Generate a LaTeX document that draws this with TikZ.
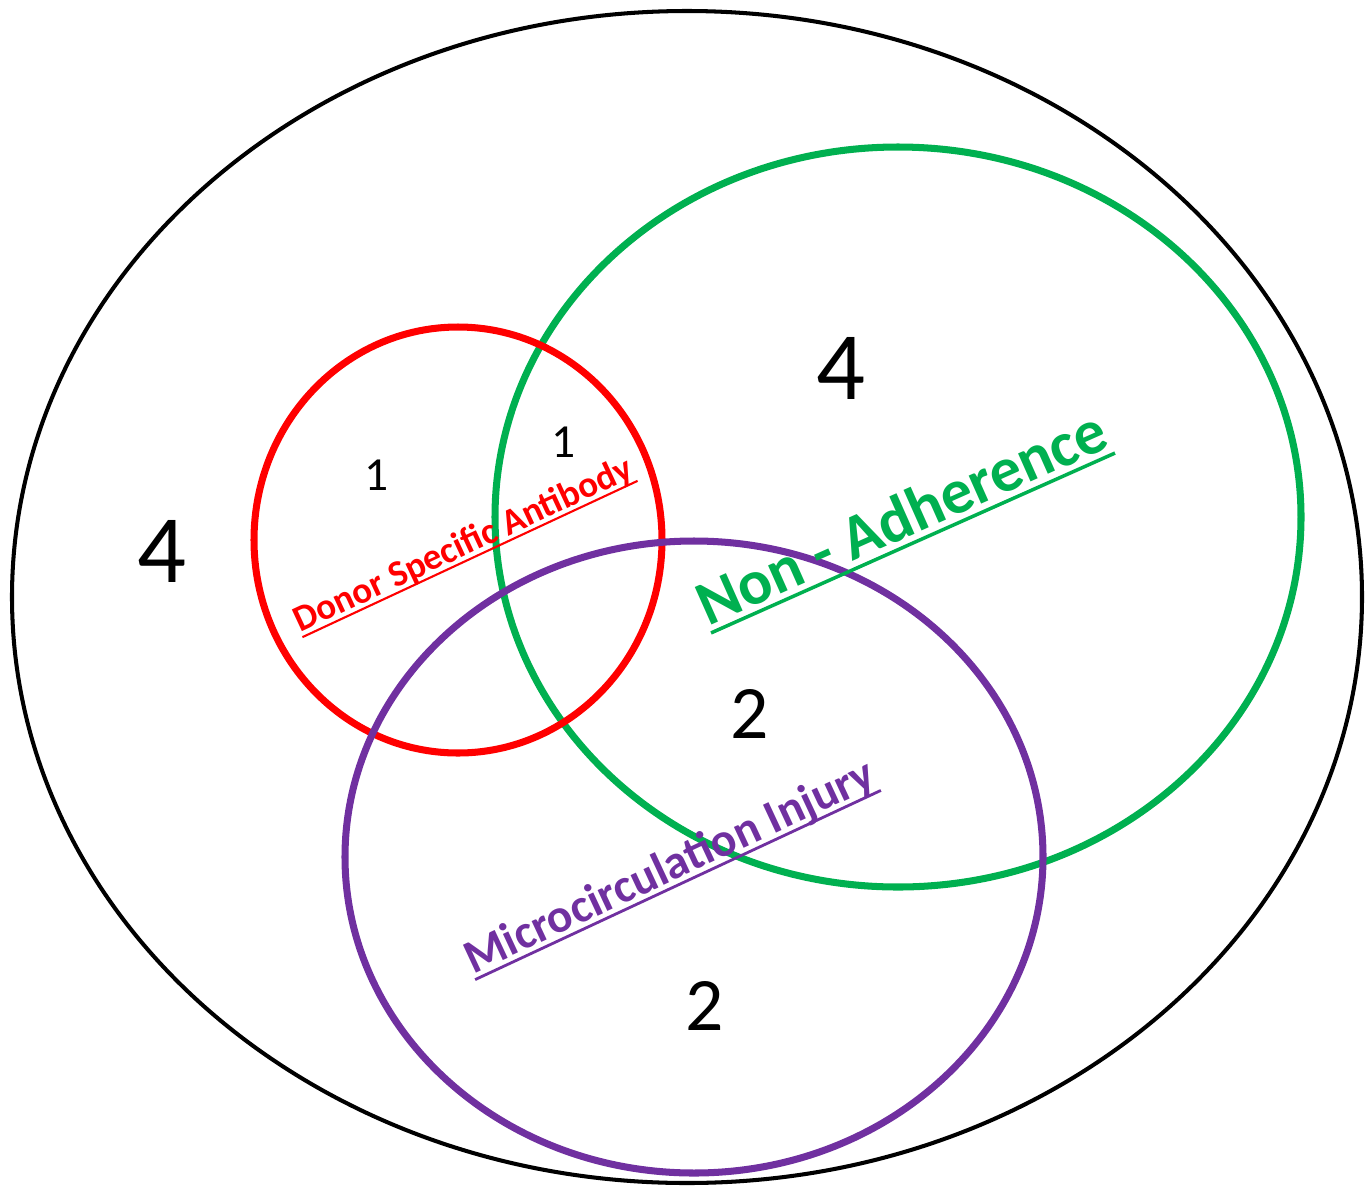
\documentclass[tikz,border=0pt]{standalone}
\usepackage{fontspec}
\setmainfont{Carlito}
\definecolor{dsared}{RGB}{255,0,0}
\definecolor{nagreen}{RGB}{0,176,80}
\definecolor{mipurple}{RGB}{112,48,160}

\tikzset{
  ring/.style={line width=4pt},
  count/.style={font=\fontsize{#1}{#1}\selectfont, inner sep=0pt, text depth=0pt},
  tag/.style={font=\bfseries\fontsize{#1}{#1}\selectfont, inner xsep=0pt,
    text depth=0pt, anchor=south},
}

\begin{document}
\begin{tikzpicture}[x=0.02cm, y=-0.02cm]
    \useasboundingbox (0,0) rectangle (1369,1187);

    % sets
    \draw[line width=2.3pt] (687,597) ellipse [x radius=675, y radius=586];
    \draw[ring, nagreen] (898,517) ellipse [x radius=403, y radius=370];
    \draw[ring, dsared] (458,540) ellipse [x radius=204, y radius=213];
    \draw[ring, mipurple] (694,857) ellipse [x radius=349, y radius=316];

    % counts
    \node[count=55pt] (outside) at (162,551) {4};
    \node[count=55pt] (naonly) at (841,368) {4};
    \node[count=27pt] (dsaonly) at (377,475) {1};
    \node[count=27pt] (dsana) at (564,442) {1};
    \node[count=43pt] (nami) at (750,714) {2};
    \node[count=43pt] (mionly) at (705,1006) {2};

    % set names
    \node[tag=21pt, dsared, rotate=25, inner ysep=2.5pt] (dsa) at (470,559) {Donor Specific Antibody};
    \draw[dsared, line width=1.2pt] (dsa.south west) -- (dsa.south east);

    \node[tag=36pt, nagreen, rotate=24, inner ysep=4pt] (na) at (913,543) {Non - Adherence};
    \draw[nagreen, line width=2pt] (na.south west) -- (na.south east);

    \node[tag=27pt, mipurple, rotate=25, inner ysep=3pt] (mi) at (678,885) {Microcirculation Injury};
    \draw[mipurple, line width=1.6pt] (mi.south west) -- (mi.south east);

\end{tikzpicture}
\end{document}
